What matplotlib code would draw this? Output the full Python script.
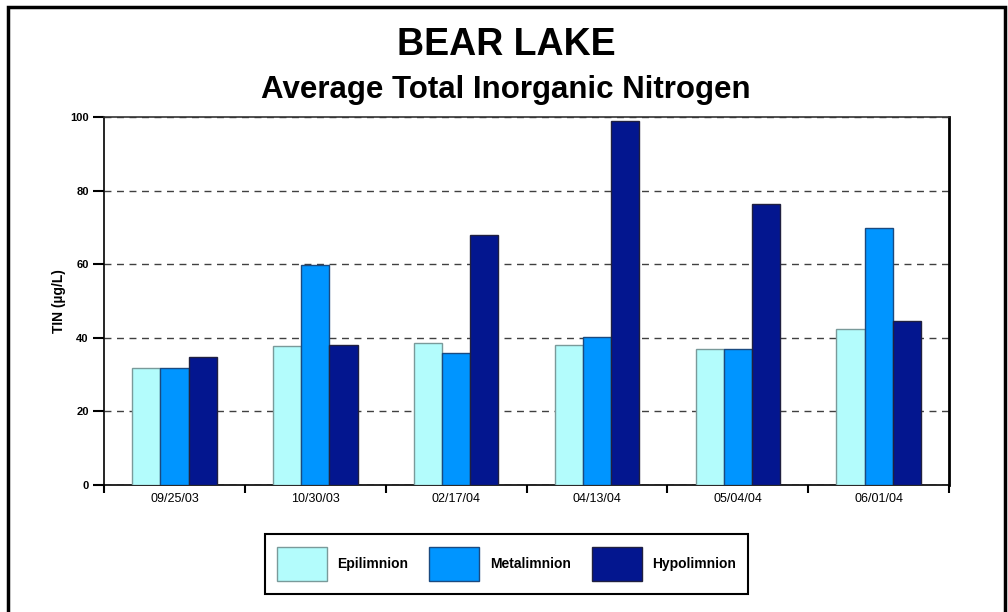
import matplotlib.pyplot as plt
from matplotlib.patches import Rectangle
import numpy as np

plt.rcParams['font.family'] = ['Liberation Sans', 'DejaVu Sans']

dates = ['09/25/03', '10/30/03', '02/17/04', '04/13/04', '05/04/04', '06/01/04']
epilimnion = [31.7, 37.8, 38.5, 38.0, 36.9, 42.4]
metalimnion = [31.7, 59.7, 35.9, 40.2, 36.9, 69.8]
hypolimnion = [34.8, 38.0, 68.0, 99.0, 76.4, 44.5]

series = [('Epilimnion', epilimnion, '#b3fcfc', '#7a9a9a'),
          ('Metalimnion', metalimnion, '#0095ff', '#1a4a80'),
          ('Hypolimnion', hypolimnion, '#03168f', '#202040')]

fig = plt.figure(figsize=(10.08, 6.12), dpi=100)
ax = fig.add_axes([0.1032, 0.2075, 0.8383, 0.6013])

x = np.arange(len(dates))
w = 0.2
for i, (name, vals, fc, ec) in enumerate(series):
    ax.bar(x + (i - 1) * w, vals, width=w, color=fc, edgecolor=ec,
           linewidth=1.0, label=name, zorder=3)

ax.set_xlim(-0.5, len(dates) - 0.5)
ax.set_ylim(0, 100)
ax.set_yticks([0, 20, 40, 60, 80, 100])
ax.set_xticks(x)
ax.set_xticklabels(dates, fontsize=9)
ax.set_xticks(np.arange(len(dates) + 1) - 0.5, minor=True)
ax.tick_params(axis='x', which='major', length=0, pad=6)
ax.tick_params(axis='x', which='minor', length=6, width=1.5, direction='out')
ax.tick_params(axis='y', labelsize=8, length=8, width=1.5, direction='out', pad=3)
for lbl in ax.get_yticklabels():
    lbl.set_fontweight('bold')

ax.yaxis.grid(True, linestyle=(0, (5, 4)), color='#404040', linewidth=1.0, zorder=0)
for s in ['left', 'bottom', 'top']:
    ax.spines[s].set_linewidth(1.2)
ax.spines['right'].set_linewidth(2.0)
ax.spines['top'].set_color('#333333')

ax.set_ylabel('TIN (µg/L)', fontsize=10, fontweight='bold', labelpad=3)

fig.text(0.502, 0.927, 'BEAR LAKE', ha='center', va='center',
         fontsize=27, fontweight='bold')
fig.text(0.502, 0.853, 'Average Total Inorganic Nitrogen', ha='center',
         va='center', fontsize=22.5, fontweight='bold')

leg = fig.legend(loc='center', bbox_to_anchor=(0.5025, 0.0784), ncol=3,
                 prop={'weight': 'bold', 'size': 10},
                 handlelength=3.6, handleheight=3.45, handletextpad=0.75,
                 columnspacing=1.5, borderpad=0.9, fancybox=False,
                 edgecolor='black', framealpha=1)
leg.get_frame().set_linewidth(1.5)

fig.patches.append(Rectangle((0.008, -0.01), 0.989, 0.9986, transform=fig.transFigure,
                             fill=False, edgecolor='black', linewidth=2.5))

fig.savefig('out.png', dpi=100)
